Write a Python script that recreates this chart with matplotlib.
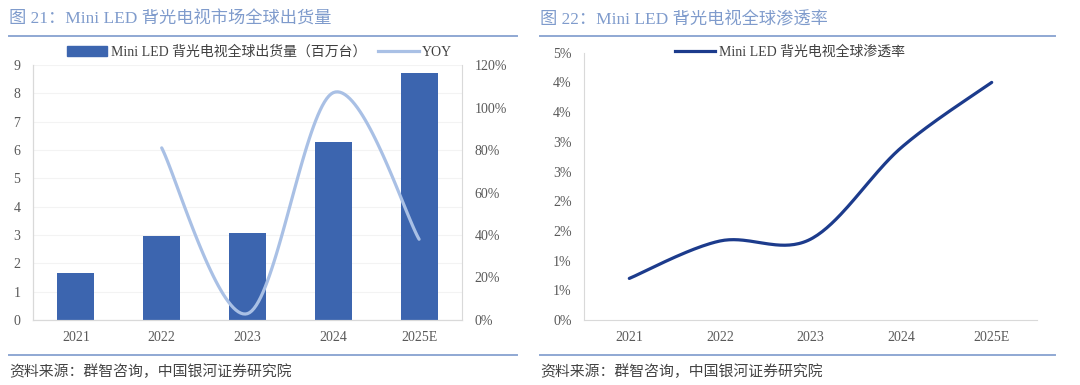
import numpy as np
import matplotlib
matplotlib.use("Agg")
import matplotlib.pyplot as plt
from matplotlib.lines import Line2D
from matplotlib.patches import Patch

plt.rcParams["font.family"] = ["Liberation Serif", "Noto Sans CJK SC", "DejaVu Sans"]

years = ["2021", "2022", "2023", "2024", "2025E"]
shipments = [1.65, 2.96, 3.06, 6.29, 8.71]          # 百万台
yoy = [None, 0.81, 0.03, 1.07, 0.38]
penetration = [0.70, 1.33, 1.36, 2.90, 4.00]        # %

bar_color = "#3c65af"
yoy_color = "#a9c0e5"
pen_color = "#1c3b8c"
title_color = "#7f9bcc"
rule_color = "#8fa8d3"
tick_color = "#595959"
spine_color = "#d9d9d9"


def smooth(x, y, n=40):
    # Excel-like smoothed line (Catmull-Rom as cubic Bezier)
    pts = np.column_stack([x, y]).astype(float)
    p = np.vstack([pts[0], pts, pts[-1]])
    out = []
    t = np.linspace(0, 1, n)[:, None]
    for i in range(1, len(p) - 2):
        p0, p1, p2, p3 = p[i - 1], p[i], p[i + 1], p[i + 2]
        c1 = p1 + (p2 - p0) / 6
        c2 = p2 - (p3 - p1) / 6
        seg = (1 - t) ** 3 * p1 + 3 * (1 - t) ** 2 * t * c1 + 3 * (1 - t) * t ** 2 * c2 + t ** 3 * p2
        out.append(seg)
    s = np.vstack(out)
    return s[:, 0], s[:, 1]


fig = plt.figure(figsize=(10.8, 3.85), dpi=100)
W, H = 1080, 385

def fy(py):
    return 1 - py / H

# titles, rules, sources
for x0, x1, title in [(9, 517, "图 21：Mini LED 背光电视市场全球出货量"),
                      (540, 1055, "图 22：Mini LED 背光电视全球渗透率")]:
    fig.text(x0 / W, fy(20), title, color=title_color, fontsize=12.4, va="center", ha="left")
    fig.add_artist(Line2D([x0 / W, x1 / W], [fy(36), fy(36)], color=rule_color, lw=1.4))
    fig.add_artist(Line2D([x0 / W, x1 / W], [fy(355), fy(355)], color=rule_color, lw=1.4))
    fig.text(x0 / W, fy(372), "资料来源：群智咨询，中国银河证券研究院", color="#444444",
             fontsize=10.7, va="center", ha="left", style="italic")

# left chart
ax = fig.add_axes([33 / W, fy(320), 429 / W, 255 / H])
x = np.arange(len(years))
ax.bar(x, shipments, width=0.43, color=bar_color, zorder=2)
ax.set_xlim(-0.5, len(years) - 0.5)
ax.set_ylim(0, 9)
ax.set_yticks(range(0, 10))
ax.set_xticks(x)
ax.set_xticklabels(years)
ax.yaxis.grid(True, color="#f3f3f3", lw=0.8, zorder=0)
ax.set_axisbelow(True)

ax2 = ax.twinx()
xi = [i for i, v in enumerate(yoy) if v is not None]
yi = [v for v in yoy if v is not None]
sx, sy = smooth(xi, yi)
ax2.plot(sx, sy, color=yoy_color, lw=2.3, solid_capstyle="round")
ax2.set_ylim(0, 1.2)
ax2.set_yticks(np.arange(0, 1.21, 0.2))
ax2.set_yticklabels([f"{int(round(v * 100))}%" for v in np.arange(0, 1.21, 0.2)])

for a in (ax, ax2):
    a.tick_params(length=0, colors=tick_color, labelsize=10)
    for s in a.spines.values():
        s.set_color(spine_color)
    a.spines["top"].set_visible(False)
ax.tick_params(axis="y", pad=9)
ax.tick_params(axis="x", pad=8)
ax2.tick_params(axis="y", pad=9)
ax.spines["right"].set_visible(False)

handles = [Patch(color=bar_color), Line2D([], [], color=yoy_color, lw=2.3)]
fig.legend(handles, ["Mini LED 背光电视全球出货量（百万台）", "YOY"],
           loc="center", bbox_to_anchor=(259.5 / W, fy(52)), ncol=2, frameon=False,
           fontsize=10, handlelength=2.9, handleheight=0.75, handletextpad=0.25,
           columnspacing=0.9, labelcolor="#404040")

# right chart
bx = fig.add_axes([584 / W, fy(320), 453 / W, 267.3 / H])
px, py = smooth(np.arange(len(years)), penetration)
bx.plot(px, py, color=pen_color, lw=2.3, solid_capstyle="round")
bx.set_xlim(-0.5, len(years) - 0.5)
bx.set_ylim(0, 4.5)
ticks = np.arange(0, 4.51, 0.5)
bx.set_yticks(ticks)
bx.set_yticklabels([f"{int(np.floor(v + 0.5 + 1e-9))}%" for v in ticks])
bx.set_xticks(np.arange(len(years)))
bx.set_xticklabels(years)
bx.tick_params(length=0, colors=tick_color, labelsize=10)
bx.tick_params(axis="y", pad=9)
bx.tick_params(axis="x", pad=8)
for k, s in bx.spines.items():
    s.set_color(spine_color)
bx.spines["top"].set_visible(False)
bx.spines["right"].set_visible(False)

fig.legend([Line2D([], [], color=pen_color, lw=2.3)], ["Mini LED 背光电视全球渗透率"],
           loc="center", bbox_to_anchor=(790 / W, fy(52)), frameon=False,
           fontsize=10, handlelength=2.9, handletextpad=0.25, labelcolor="#404040")

fig.savefig("out.png", dpi=100, facecolor="white")
